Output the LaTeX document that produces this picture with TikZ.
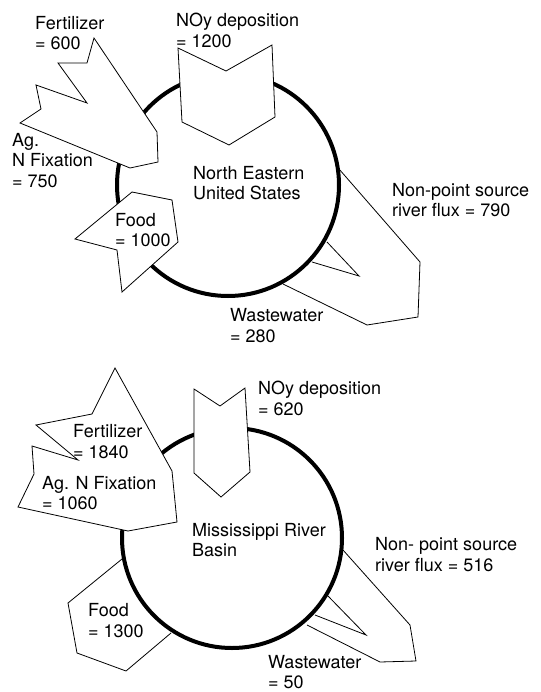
\documentclass[tikz,border=0pt]{standalone}
\usepackage{fontspec}
\setmainfont{TeX Gyre Heros}
\usetikzlibrary{positioning}
\tikzset{
  ring/.style={draw=black, line width=4pt},
  influx/.style={draw=black, line width=0.8pt, fill=white, line join=miter},
  outflux/.style={draw=black, line width=0.8pt, line join=miter},
  lbl/.style={anchor=west, inner sep=0pt, align=left,
              font=\fontsize{18}{20.5}\selectfont},
}

\begin{document}
\begin{tikzpicture}[x=1pt, y=-1pt]
  \useasboundingbox (0,0) rectangle (540,692);

  % --- North Eastern United States (top) ---
  % exports leave from under the ring
  \draw[outflux] (339,169) -- (420,262) -- (418,317) -- (367,325) -- (283,284);
  \draw[outflux] (327,242) -- (359,276) -- (312,262);
  \draw[ring] (228,185) circle[radius=111pt];
  % inputs sit on top of the ring
  \draw[influx] (94,38) -- (87,63) -- (58,63) -- (87,103) -- (36,85) -- (41,109)
    -- (20,123) -- (130,168) -- (158,162) -- (157,132) -- cycle;
  \draw[influx] (132,192) -- (172,200) -- (178,242) -- (122,292) -- (117,250)
    -- (75,239) -- cycle;
  \draw[influx] (178,48) -- (226,71) -- (272,45) -- (275,117) -- (229,145)
    -- (182,122) -- cycle;
  \node[lbl] (neFert)   at (35,33)    {Fertilizer\\= 600};
  \node[lbl] (neNoy)    at (176,30.5) {NOy deposition\\= 1200};
  \node[lbl] (neFix)    at (12,160.5) {Ag.\\N Fixation\\= 750};
  \node[lbl] (neRegion) at (193,183)  {North Eastern\\United States};
  \node[lbl] (neRiver)  at (392,200)  {Non-point source\\river flux = 790};
  \node[lbl] (neFood)   at (115,230)  {Food\\= 1000};
  \node[lbl] (neWaste)  at (230,325.5) {Wastewater\\= 280};

  % --- Mississippi River Basin (bottom) ---
  \draw[outflux] (343,550) -- (410,625) -- (416,661) -- (380,662) -- (307,625);
  \draw[outflux] (328,596) -- (366,635) -- (315,615);
  \draw[outflux] (122,559) -- (68,603) -- (77,653) -- (126,671) -- (171,633);
  \draw[ring] (232,538) circle[radius=110pt];
  \draw[influx] (115,368) -- (92,414) -- (36,425) -- (78,460) -- (32,446) -- (34,474)
    -- (18,507) -- (128,531) -- (177,522) -- (172,471) -- cycle;
  \draw[influx] (194,389) -- (220,406) -- (245,388) -- (250,472) -- (221,497)
    -- (194,473) -- cycle;
  \node[lbl] (msFert)   at (73,441.5)  {Fertilizer\\= 1840};
  \node[lbl] (msFix)    at (42,493)    {Ag. N Fixation\\= 1060};
  \node[lbl] (msNoy)    at (258,398.5) {NOy deposition\\= 620};
  \node[lbl] (msRegion) at (192,540)   {Mississippi River\\Basin};
  \node[lbl] (msRiver)  at (375,554.5) {Non- point source\\river flux = 516};
  \node[lbl] (msFood)   at (88,620.5)  {Food\\= 1300};
  \node[lbl] (msWaste)  at (268,672)   {Wastewater\\= 50};
\end{tikzpicture}
\end{document}
